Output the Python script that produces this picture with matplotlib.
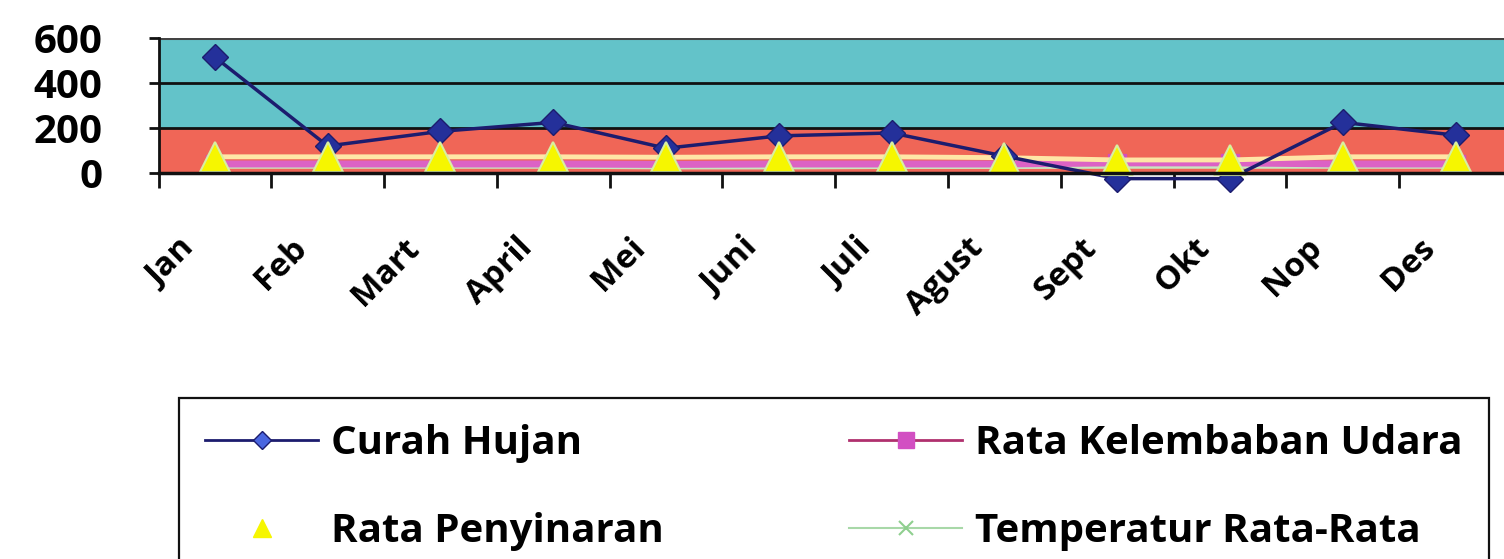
import matplotlib
matplotlib.use('Agg')
import matplotlib.pyplot as plt
import matplotlib.transforms as mtransforms
from matplotlib.lines import Line2D
import numpy as np

# ---------------- data ----------------
months = ['Jan', 'Feb', 'Mart', 'April', 'Mei', 'Juni', 'Juli', 'Agust', 'Sept', 'Okt', 'Nop', 'Des']
curah_hujan = [515, 120, 185, 225, 110, 165, 178, 75, -25, -25, 225, 168]
rata_penyinaran = [72, 72, 72, 72, 70, 72, 72, 68, 58, 58, 72, 72]
rata_kelembaban = [40, 40, 40, 40, 38, 40, 40, 40, 45, 45, 40, 40]
temperatur = [25, 25, 25, 25, 22, 22, 24, 24, 25, 25, 25, 25]
y_ticks = [0, 200, 400, 600]
band_edges = [0, 200, 600]
series_labels = ['Curah Hujan', 'Rata Penyinaran', 'Rata Kelembaban Udara', 'Temperatur Rata-Rata']

FONT = 'Open Sans'

W, H = 1504, 559
fig = plt.figure(figsize=(W / 100, H / 100), dpi=100)
fig.patch.set_facecolor('white')

left, right, bottom, top = 158.5, 1512, 173, 38
ax = fig.add_axes([left / W, 1 - bottom / H, (right - left) / W, (bottom - top) / H])

x = np.arange(len(months)) + 0.5

# background bands
ax.axhspan(band_edges[0], band_edges[1], color='#F06657', zorder=0, lw=0)
ax.axhspan(band_edges[1], band_edges[2], color='#63C3C9', zorder=0, lw=0)

# gridlines
for yv in y_ticks[1:3]:
    ax.axhline(yv, color='#111111', lw=2.0, zorder=1)
ax.axhline(y_ticks[-1], color='#444444', lw=2.2, zorder=1)

# series
ax.plot(x, temperatur, color='#C8E6C0', lw=2, marker='x', ms=9, mec='#8FCF8F', mew=1.5, zorder=2)
ax.plot(x, rata_kelembaban, color='#DC62C4', lw=5, marker='s', ms=13, mfc='#D24FC2', mec='#D24FC2', zorder=3)
ax.plot(x, rata_penyinaran, color='#FFE6A6', lw=3.5, zorder=3.5)
ax.plot(x, curah_hujan, color='#1C1C6E', lw=2.5, marker='D', ms=13, mfc='#24309A', mec='#1C1C6E',
        zorder=4, clip_on=False)
ax.plot(x, rata_penyinaran, ls='none', marker='^', ms=22, mfc='#F6F600', mec='#D8F0A0', mew=1.5,
        zorder=5, clip_on=False)

ax.set_xlim(0, len(months))
ax.set_ylim(y_ticks[0], y_ticks[-1])

for s in ['top', 'right']:
    ax.spines[s].set_visible(False)
ax.spines['left'].set_linewidth(2.0)
ax.spines['left'].set_color('#111111')
ax.spines['bottom'].set_linewidth(2.5)
ax.spines['bottom'].set_color('#111111')
ax.spines['left'].set_zorder(6)
ax.spines['bottom'].set_zorder(6)

tick_font = dict(family=FONT, weight='bold')
ax.set_yticks(y_ticks)
ax.set_yticklabels([str(v) for v in y_ticks], fontsize=29, **tick_font)
ax.tick_params(axis='y', direction='out', length=7.5, width=2, pad=33, color='#111111')

ax.set_xticks(x)
ax.set_xticklabels(months, rotation=45, ha='right', va='top', fontsize=24, **tick_font)
ax.set_xticks(np.arange(len(months) + 1), minor=True)
ax.tick_params(axis='x', which='major', length=0, pad=42)
ax.tick_params(axis='x', which='minor', direction='out', length=11, width=2, color='#111111')
offset = mtransforms.ScaledTranslation(-14 / 100, 0, fig.dpi_scale_trans)
for lab in ax.get_xticklabels():
    lab.set_transform(lab.get_transform() + offset)

# legend
handles = [
    Line2D([], [], color='#1C1C6E', lw=2, marker='D', ms=9, mfc='#4A66E0', mec='#1C1C6E'),
    Line2D([], [], ls='none', marker='^', ms=13, mfc='#F6F600', mec='#F6F600'),
    Line2D([], [], color='#B0306E', lw=2, marker='s', ms=12, mfc='#D24FC2', mec='#D24FC2'),
    Line2D([], [], color='#A8D8A8', lw=1.5, marker='x', ms=10, mec='#8FCF8F', mew=1.5),
]
leg = fig.legend(handles, series_labels, loc='upper left',
                 bbox_to_anchor=(179 / W, 1 - 398 / H), bbox_transform=fig.transFigure,
                 ncol=2, prop=dict(family=FONT, weight='bold', size=29),
                 frameon=True, fancybox=False, framealpha=1, edgecolor='#111111',
                 borderpad=0.65, handlelength=2.8, handletextpad=0.33, columnspacing=4.6,
                 labelspacing=1.22, borderaxespad=0)
leg.get_frame().set_linewidth(1.6)

fig.savefig('out.png', dpi=100)
